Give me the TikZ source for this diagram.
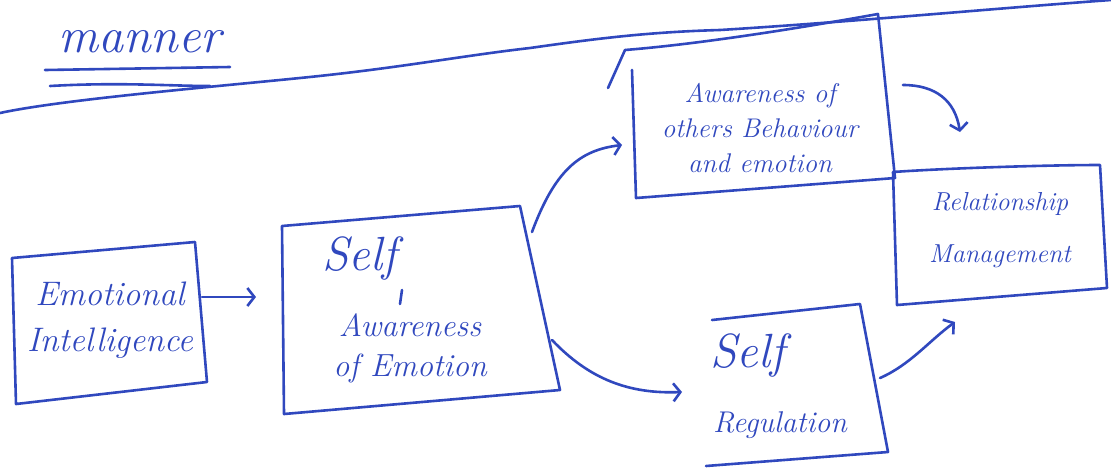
\documentclass[tikz,border=0pt]{standalone}
\usetikzlibrary{arrows.meta}
\definecolor{ink}{RGB}{48,72,190}
\begin{document}
\begin{tikzpicture}[x=1pt,y=-1pt,
  pen/.style={draw=ink,line width=2.6pt,line cap=round,line join=round},
  txt/.style={text=ink,font=\itshape,align=center,inner sep=0pt},
  arr/.style={pen,-{Straight Barb[length=7pt,width=18pt,line width=2.6pt]}}]
\useasboundingbox (0,0) rectangle (1111,467);
% title and header lines
\node[txt,font=\itshape\fontsize{50}{50}\selectfont] (title) at (140,42) {manner};
\draw[pen] (45,70) -- (230,67);
\draw[pen] (50,86) .. controls (120,82) and (170,86) .. (210,86);
\draw[pen] (0,113) .. controls (60,100) and (200,88) .. (300,78) .. controls (400,68) and (460,56) .. (530,48) .. controls (600,38) and (650,32) .. (720,30) .. controls (850,22) and (1000,8) .. (1111,0);
% boxes
\draw[pen] (12,258) -- (195,242) -- (207,382) -- (16,404) -- cycle;
\node[txt,font=\itshape\fontsize{34}{46}\selectfont] (ei) at (110,320) {Emotional\\Intelligence};
\draw[pen] (282,226) -- (520,206) -- (560,390) -- (284,414) -- cycle;
\node[txt,font=\itshape\fontsize{48}{48}\selectfont,anchor=west] (saself) at (322,258) {Self};
\draw[pen] (402,290) -- (400,304);
\node[txt,font=\itshape\fontsize{32}{40}\selectfont] (sa) at (410,348) {Awareness\\of Emotion};
\draw[pen] (625,50) .. controls (700,44) and (800,28) .. (878,14) -- (895,178) -- (636,198) -- (632,70);
\draw[pen] (608,88) -- (625,50);
\node[txt,font=\itshape\fontsize{27}{35}\selectfont] (ao) at (760,128) {Awareness of\\others Behaviour\\and emotion};
\draw[pen] (893,172) .. controls (950,168) and (1050,165) .. (1100,165) -- (1107,288) -- (897,305) -- cycle;
\node[txt,font=\itshape\fontsize{26}{52}\selectfont] (rm) at (1000,230) {Relationship\\Management};
\draw[pen] (712,320) -- (860,304) -- (888,452) -- (706,466);
\node[txt,font=\itshape\fontsize{48}{48}\selectfont,anchor=west] (srself) at (710,355) {Self};
\node[txt,font=\itshape\fontsize{30}{30}\selectfont] (sr) at (780,425) {Regulation};
% connectors
\coordinate (eiout) at (202,297);
\coordinate (sain) at (256,297);
\draw[arr] (eiout) -- (sain);
\coordinate (saup) at (532,232);
\coordinate (aoin) at (622,145);
\draw[arr] (saup) .. controls (555,170) and (580,150) .. (aoin);
\coordinate (sadown) at (552,340);
\coordinate (srin) at (682,392);
\draw[arr] (sadown) .. controls (590,380) and (630,394) .. (srin);
\coordinate (srout) at (880,378);
\coordinate (rmin) at (955,322);
\draw[arr] (srout) .. controls (910,365) and (930,340) .. (rmin);
\coordinate (aoout) at (903,85);
\coordinate (rmtop) at (960,132);
\draw[arr] (aoout) .. controls (935,85) and (955,100) .. (rmtop);
\end{tikzpicture}
\end{document}
